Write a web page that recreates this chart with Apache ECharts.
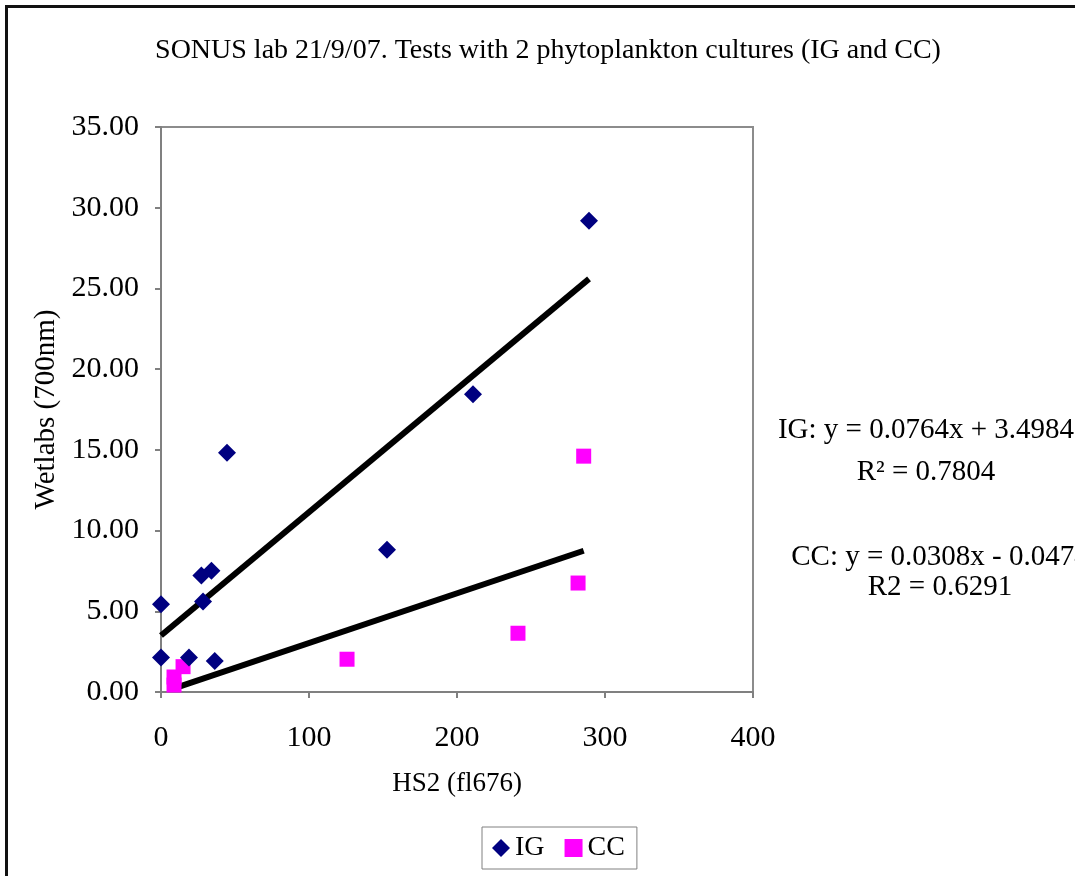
<!DOCTYPE html>
<html>
<head>
<meta charset="utf-8">
<script src="https://cdn.jsdelivr.net/npm/echarts@6/dist/echarts.min.js"></script>
<style>
html,body{margin:0;padding:0;background:#fff;}
#chart{width:1075px;height:876px;}
</style>
</head>
<body>
<div id="chart"></div>
<script>
// IG culture: HS2 (fl676) vs Wetlabs (700nm)
const igX = [0, 0, 18.9, 36.3, 28.4, 44.6, 27.3, 34.1, 210.8, 152.7, 289.2];
const igY = [5.44, 2.13, 2.13, 1.92, 5.60, 14.82, 7.22, 7.51, 18.44, 8.81, 29.19];
// CC culture
const ccX = [285.6, 281.8, 241.2, 125.7, 8.8, 8.8, 14.9];
const ccY = [14.61, 6.75, 3.64, 2.03, 0.93, 0.43, 1.57];
// Linear trend coefficients [slope, intercept]
const igFit = [0.0764, 3.4984];
const ccFit = [0.0308, -0.0474];
const seriesNames = ['IG', 'CC'];
const xTicks = [0, 400, 100];
const yTicks = [0, 35, 5];

const FONT = 'Liberation Serif';
function trend(xs, fit) {
  const lo = Math.min(...xs), hi = Math.max(...xs);
  return [[lo, fit[0] * lo + fit[1]], [hi, fit[0] * hi + fit[1]]];
}
const igData = igX.map((x, i) => [x, igY[i]]);
const ccData = ccX.map((x, i) => [x, ccY[i]]);

const chart = echarts.init(document.getElementById('chart'), null, {renderer: 'canvas'});
chart.setOption({
  backgroundColor: '#fff',
  animation: false,
  title: {
    text: 'SONUS lab 21/9/07. Tests with 2 phytoplankton cultures (IG and CC)',
    left: 543, top: 32, textAlign: 'center',
    textStyle: {fontFamily: FONT, fontSize: 28, fontWeight: 'normal', color: '#000'}
  },
  grid: {left: 161, top: 127, width: 592, height: 565, show: true, borderColor: '#8c8c8c', borderWidth: 2, backgroundColor: 'transparent'},
  xAxis: {
    type: 'value', min: xTicks[0], max: xTicks[1], interval: xTicks[2],
    name: 'HS2 (fl676)', nameLocation: 'middle', nameGap: 78,
    nameTextStyle: {fontFamily: FONT, fontSize: 27, color: '#000'},
    axisLine: {show: true, lineStyle: {color: '#808080', width: 2}},
    axisTick: {show: true, length: 6, lineStyle: {color: '#808080', width: 2}},
    axisLabel: {fontFamily: FONT, fontSize: 30, color: '#000', margin: 31},
    splitLine: {show: false}
  },
  yAxis: {
    type: 'value', min: yTicks[0], max: yTicks[1], interval: yTicks[2],
    name: 'Wetlabs (700nm)', nameLocation: 'middle', nameGap: 98, nameRotate: 90,
    nameTextStyle: {fontFamily: FONT, fontSize: 29, color: '#000'},
    axisLine: {show: true, lineStyle: {color: '#808080', width: 2}},
    axisTick: {show: true, length: 6, lineStyle: {color: '#808080', width: 2}},
    axisLabel: {fontFamily: FONT, fontSize: 30, color: '#000', margin: 22, formatter: v => v.toFixed(2)},
    splitLine: {show: false}
  },
  legend: {
    data: seriesNames,
    left: 482, top: 827, width: 154,
    itemWidth: 18, itemHeight: 18, itemGap: 20,
    padding: [7, 12, 7, 10],
    borderColor: '#808080', borderWidth: 1,
    textStyle: {fontFamily: FONT, fontSize: 28, color: '#000'}
  },
  graphic: [
    {type: 'rect', left: 4, top: 4, shape: {width: 1200, height: 1000}, style: {fill: 'none', stroke: '#111', lineWidth: 3}, silent: true},
    {type: 'text', x: 926, y: 430, style: {text: 'IG: y = 0.0764x + 3.4984', fontFamily: FONT, fontSize: 29, fill: '#000', textAlign: 'center', textVerticalAlign: 'middle'}},
    {type: 'text', x: 926, y: 472, style: {text: 'R² = 0.7804', fontFamily: FONT, fontSize: 29, fill: '#000', textAlign: 'center', textVerticalAlign: 'middle'}},
    {type: 'text', x: 940, y: 557, style: {text: 'CC: y = 0.0308x - 0.0474', fontFamily: FONT, fontSize: 29, fill: '#000', textAlign: 'center', textVerticalAlign: 'middle'}},
    {type: 'text', x: 940, y: 587, style: {text: 'R2 = 0.6291', fontFamily: FONT, fontSize: 29, fill: '#000', textAlign: 'center', textVerticalAlign: 'middle'}}
  ],
  series: [
    {name: 'IG trend', type: 'line', data: trend(igX, igFit), symbol: 'none', lineStyle: {color: '#000', width: 6}, z: 1, legendHoverLink: false},
    {name: 'CC trend', type: 'line', data: trend(ccX, ccFit), symbol: 'none', lineStyle: {color: '#000', width: 6}, z: 1, legendHoverLink: false},
    {name: 'IG', type: 'scatter', data: igData, symbol: 'diamond', symbolSize: [18, 18], itemStyle: {color: '#000080', opacity: 1}, z: 3},
    {name: 'CC', type: 'scatter', data: ccData, symbol: 'rect', symbolSize: 15, itemStyle: {color: '#ff00ff', opacity: 1}, z: 2}
  ]
});
</script>
</body>
</html>
